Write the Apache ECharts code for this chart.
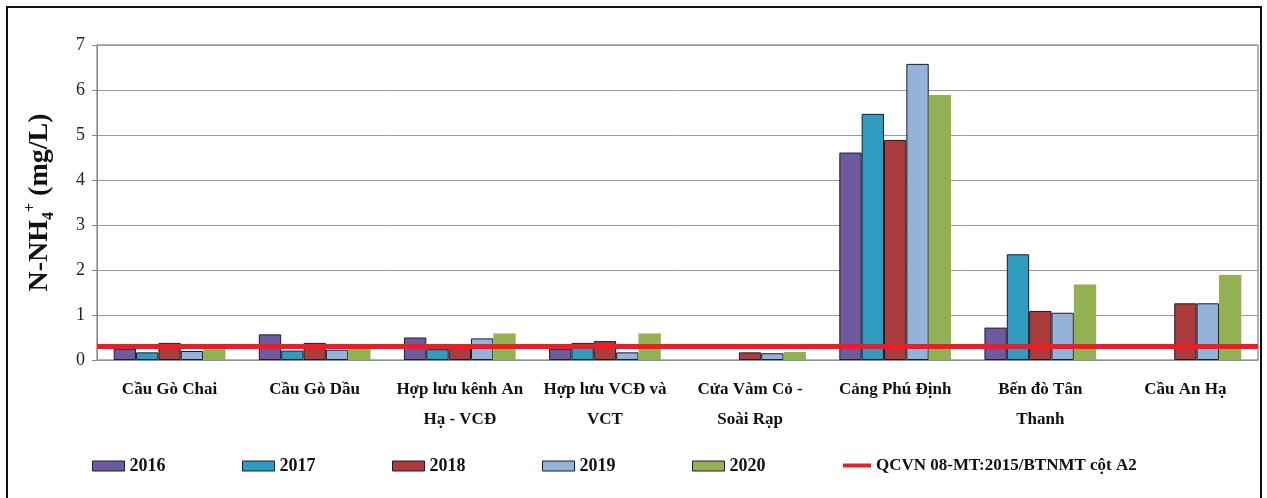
<!DOCTYPE html>
<html><head><meta charset="utf-8">
<script src="https://cdn.jsdelivr.net/npm/echarts@6/dist/echarts.min.js"></script>
<style>html,body{margin:0;padding:0;background:#fff}#c{width:1267px;height:498px}</style>
</head><body><div id="c"></div>
<script>
const categories = ['Cầu Gò Chai','Cầu Gò Dầu','Hợp lưu kênh An\nHạ - VCĐ','Hợp lưu VCĐ và\nVCT','Cửa Vàm Cỏ -\nSoài Rạp','Cảng Phú Định','Bến đò Tân\nThanh','Cầu An Hạ'];
const years = ['2016','2017','2018','2019','2020'];
const v2016 = [0.25, 0.57, 0.50, 0.25, null, 4.61, 0.72, null];
const v2017 = [0.17, 0.21, 0.24, 0.38, null, 5.47, 2.35, null];
const v2018 = [0.38, 0.38, 0.28, 0.42, 0.17, 4.89, 1.09, 1.26];
const v2019 = [0.20, 0.23, 0.48, 0.17, 0.15, 6.58, 1.05, 1.26];
const v2020 = [0.24, 0.27, 0.59, 0.59, 0.18, 5.89, 1.68, 1.89];
const qcvnName = 'QCVN 08-MT:2015/BTNMT cột A2';
const qcvnValue = 0.3;
const yTicks = [0,1,2,3,4,5,6,7];

const seriesData = [v2016, v2017, v2018, v2019, v2020];
const colors = ['#6F5A9E','#2F9DC1','#AC3B3B','#95B2D9','#93B053'];
const serif = '"Liberation Serif", "Times New Roman", serif';

const chart = echarts.init(document.getElementById('c'));
const series = years.map((y, i) => ({
  name: y, type: 'bar', data: seriesData[i],
  barGap: '0%', barCategoryGap: '23%',
  itemStyle: { color: colors[i], borderColor: i === 4 ? colors[i] : '#1c1c2a', borderWidth: i === 4 ? 0 : 1 },
  z: 2
}));
series.push({
  name: qcvnName, type: 'line', data: [], symbol: 'none',
  itemStyle: { color: '#EE1C25' }, lineStyle: { color: '#EE1C25', width: 5 },
  markLine: { silent: true, symbol: 'none', label: { show: false },
    lineStyle: { color: '#EE1C25', width: 5, type: 'solid' },
    data: [{ yAxis: qcvnValue }] },
  z: 5
});

const legends = years.map((y, i) => ({
  data: [y], left: 92 + i * 150, top: 457, itemWidth: 32, itemHeight: 10, icon: 'rect',
  itemStyle: { borderColor: '#1c1c2a', borderWidth: 1 },
  textStyle: { fontFamily: serif, fontWeight: 'bold', fontSize: 18, color: '#111' }, padding: 0, itemGap: 3
}));
legends.push({
  data: [qcvnName], left: 843, top: 457, itemWidth: 28, itemHeight: 4, icon: 'rect',
  textStyle: { fontFamily: serif, fontWeight: 'bold', fontSize: 17, color: '#111' }, padding: 0
});

chart.setOption({
  animation: false,
  backgroundColor: '#fff',
  graphic: [{ type: 'rect', shape: { x: 7, y: 7, width: 1254, height: 500 }, style: { fill: 'none', stroke: '#111', lineWidth: 2 }, silent: true }],
  grid: { left: 97, right: 9, top: 45, bottom: 138, show: true, borderColor: '#666', borderWidth: 1 },
  legend: legends,
  xAxis: {
    type: 'category', data: categories,
    axisLine: { lineStyle: { color: '#7a9a9a', width: 1 } },
    axisTick: { show: false },
    axisLabel: { interval: 0, fontFamily: serif, fontWeight: 'bold', fontSize: 17, color: '#111', lineHeight: 30, margin: 15 }
  },
  yAxis: {
    type: 'value', min: 0, max: 7, interval: 1,
    name: 'N-NH{sub|4}{sup|+} (mg/L)', nameLocation: 'middle', nameGap: 40, nameRotate: 90,
    nameTextStyle: { fontFamily: serif, fontWeight: 'bold', fontSize: 28, color: '#111', lineHeight: 34,
      rich: { sub: { fontFamily: serif, fontWeight: 'bold', fontSize: 16, verticalAlign: 'bottom', color: '#111' },
              sup: { fontFamily: serif, fontWeight: 'bold', fontSize: 16, verticalAlign: 'top', color: '#111' } } },
    axisLine: { show: true, lineStyle: { color: '#888' } },
    axisTick: { show: true, length: 5, lineStyle: { color: '#888' } },
    axisLabel: { fontFamily: serif, fontSize: 18, color: '#222', margin: 12, formatter: v => yTicks.includes(v) ? String(v) : '' },
    splitLine: { lineStyle: { color: '#9a9a9a', width: 1 } }
  },
  series
});
</script></body></html>
